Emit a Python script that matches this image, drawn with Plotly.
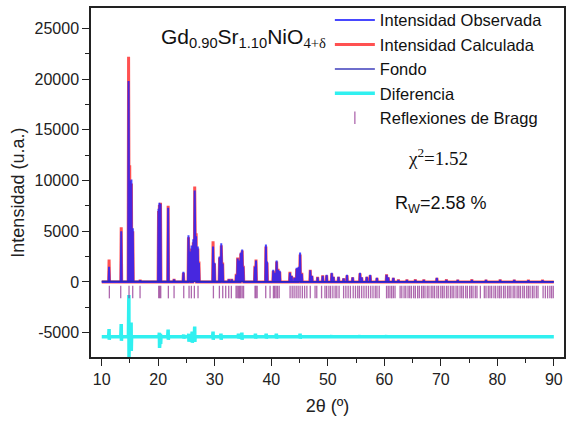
import plotly.graph_objects as go

# ---------------- data ----------------
peak_pos = [11.3, 13.45, 14.75, 14.95, 15.25, 15.5, 16.8, 20.05, 20.2, 20.4, 21.75, 22.8,
            24.45, 25.35, 25.6, 25.9, 26.2, 26.45, 26.7, 27.0, 27.2, 29.7, 29.95, 30.85,
            31.15, 31.4, 32.5, 33.0, 33.8, 34.05, 34.35, 34.6, 34.85, 35.05, 37.1, 37.3,
            39.05, 39.25, 40.35, 40.6, 40.95, 41.2, 41.5, 43.3, 43.6, 44.1, 44.5, 44.85,
            45.1, 45.4, 46.9, 47.2, 48.2, 49.1, 49.8, 50.7, 51.0, 51.9, 52.8, 53.4, 54.4,
            55.7, 56.0, 56.9, 57.5, 58.7, 60.4, 60.7, 61.6, 62.5, 64.0, 65.5, 67.0, 69.3,
            71.0, 73.0, 75.5, 78.0, 80.5, 83.0, 85.5, 88.0]
obs_int = [1500, 5000, 19800, 10000, 10100, 5300, 150, 7200, 7800, 7700, 7300, 250,
           1000, 4600, 3000, 3600, 4200, 9000, 4500, 3500, 1900, 3500, 1900, 2500,
           3800, 1800, 250, 250, 700, 2300, 2100, 2900, 3200, 1500, 1500, 2100,
           3700, 2000, 1200, 900, 2100, 1200, 1100, 900, 600, 400, 1400, 1500,
           2900, 800, 1150, 600, 450, 600, 700, 900, 500, 500, 350, 700, 450,
           900, 450, 500, 700, 400, 700, 450, 400, 200, 200, 200, 200, 400,
           200, 180, 200, 180, 200, 180, 170, 150]
calc_int = [2200, 5400, 22200, 11500, 9700, 5000, 200, 7000, 7600, 7800, 7500, 300,
            900, 4400, 3200, 3300, 3900, 9400, 4800, 3300, 2000, 4000, 1800, 2400,
            3600, 1900, 300, 300, 800, 2400, 2000, 2800, 3100, 1600, 1600, 2200,
            3500, 1900, 1100, 1000, 2000, 1300, 1000, 1000, 600, 450, 1300, 1400,
            2700, 900, 1200, 600, 500, 650, 650, 850, 500, 500, 350, 650, 450,
            850, 450, 500, 650, 400, 750, 450, 400, 250, 250, 250, 250, 400,
            250, 220, 250, 220, 250, 220, 200, 200]

bg_x = [10, 20, 30, 40, 50, 60, 70, 80, 90]
bg_y = [60, 50, 40, 35, 30, 30, 30, 30, 30]

diff_base = -5400
diff_pos = [11.3, 13.45, 14.8, 15.2, 20.2, 20.4, 21.75, 24.5, 25.4, 26.0, 26.45, 29.7,
            31.1, 34.2, 34.8, 37.2, 39.1, 40.9, 45.1, 50.7, 55.7, 60.4]
diff_up = [-4650, -4150, -1300, -4000, -5000, -5100, -4700, -5200, -5100, -4900, -4400, -4900,
           -5100, -5100, -5000, -5100, -5100, -5100, -5100, -5250, -5250, -5250]
diff_down = [-5700, -5800, -7400, -6800, -6500, -6100, -5700, -5600, -5900, -6000, -5900, -5700,
             -5700, -5600, -5700, -5600, -5600, -5600, -5600, -5550, -5550, -5550]

bragg_pos = [11.35, 13.36, 14.83, 15.48, 16.78, 20.08, 20.26, 20.44, 21.79, 22.8, 24.51, 25.45,
             25.86, 26.39, 27.04, 29.76, 30.82, 31.41, 31.94, 32.47, 32.94, 33.77, 33.97, 34.2,
             34.4, 34.6, 34.85, 35.1, 37.13, 37.3, 37.5, 39.02, 39.79, 40.38, 40.6, 40.85,
             41.1, 41.4, 43.33, 43.7, 44.04, 44.4, 44.75, 45.1, 45.5, 45.9, 46.3, 46.9,
             47.75, 48.05, 48.9, 49.5, 49.8, 50.2, 50.5, 50.9, 51.3, 51.6, 52.0, 52.8,
             53.2, 53.6, 54.0, 54.5, 54.9, 55.3, 55.6, 56.0, 56.4, 56.8, 57.2, 57.6,
             58.0, 58.4, 58.7, 59.1, 60.4, 60.7, 61.0, 61.3, 61.6, 61.9, 62.8, 63.1,
             63.5, 63.8, 64.2, 64.5, 64.8, 65.2, 65.5, 65.9, 66.2, 66.6, 66.9, 67.2,
             67.6, 67.9, 68.3, 68.6, 68.9, 69.3, 69.6, 70.0, 70.3, 70.6, 71.0, 71.3,
             71.7, 72.0, 72.3, 72.7, 73.0, 73.4, 73.7, 74.0, 74.4, 74.7, 75.1, 75.4,
             75.7, 76.1, 76.4, 77.0, 77.7, 78.0, 78.4, 78.7, 79.0, 79.4, 79.7, 80.1,
             80.4, 80.7, 81.1, 81.4, 81.8, 82.1, 82.4, 82.8, 83.1, 83.5, 83.8, 84.1,
             84.5, 84.8, 85.2, 85.5, 85.8, 86.2, 86.5, 86.9, 87.2, 88.1, 88.5, 88.9,
             89.3, 89.6, 89.9]
bragg_level = -1000

x_ticks = [10, 20, 30, 40, 50, 60, 70, 80, 90]
y_ticks = [-5000, 0, 5000, 10000, 15000, 20000, 25000]
y_tick_labels = ["-5000", "0", "5000", "10000", "15000", "20000", "25000"]


# ---------------- helpers to turn peak lists into line vertices ----------------
def profile(pos, hts, base=0.0, w=0.08):
    xs, ys = [10.0], [base]
    for p, h in sorted(zip(pos, hts)):
        xs += [p - w, p, p + w]
        ys += [base, h, base]
    xs.append(90.0)
    ys.append(base)
    return xs, ys


def diff_profile(pos, up, down, base, w=0.08):
    xs, ys = [10.0], [base]
    for p, u, d in zip(pos, up, down):
        xs += [p - w, p, p + 0.03, p + w]
        ys += [base, u, d, base]
    xs.append(90.0)
    ys.append(base)
    return xs, ys


ox, oy = profile(peak_pos, obs_int)
cx, cy = profile(peak_pos, calc_int)
dx, dy = diff_profile(diff_pos, diff_up, diff_down, diff_base)

FONT = "Liberation Sans, Arial, sans-serif"
SERIF = "Liberation Serif, Times New Roman, serif"

fig = go.Figure()
fig.add_trace(go.Scatter(x=cx, y=cy, mode="lines", name="Intensidad Calculada",
                         line=dict(color="rgba(255,50,50,0.85)", width=3), legendrank=2))
fig.add_trace(go.Scatter(x=ox, y=oy, mode="lines", name="Intensidad Observada",
                         line=dict(color="rgba(30,30,255,0.82)", width=2), legendrank=1))
fig.add_trace(go.Scatter(x=bg_x, y=bg_y, mode="lines", name="Fondo",
                         line=dict(color="rgba(40,40,180,0.9)", width=1.5), legendrank=3))
fig.add_trace(go.Scatter(x=dx, y=dy, mode="lines", name="Diferencia",
                         line=dict(color="#30F0F0", width=3.5), legendrank=4))
fig.add_trace(go.Scatter(x=bragg_pos, y=[bragg_level] * len(bragg_pos), mode="markers",
                         name="Reflexiones de Bragg",
                         marker=dict(symbol="line-ns", size=9,
                                     line=dict(color="rgba(140,40,140,0.7)", width=1.3)),
                         legendrank=5))

axis_common = dict(showline=True, linecolor="#222", linewidth=1.5, mirror=True,
                   ticks="outside", ticklen=7, tickwidth=1.3, tickcolor="#222",
                   showgrid=False, zeroline=False, automargin=False,
                   tickfont=dict(family=FONT, size=16, color="#222"))

fig.update_xaxes(range=[8.1, 91.8], tickvals=x_ticks, **axis_common,
                 minor=dict(dtick=5, ticks="outside", ticklen=4, tickwidth=1.2, tickcolor="#222"),
                 title=dict(text="2θ (º)", font=dict(family=FONT, size=18, color="#222"), standoff=12))
fig.update_yaxes(range=[-7400, 27000], tickvals=y_ticks, ticktext=y_tick_labels, **axis_common,
                 minor=dict(dtick=2500, ticks="outside", ticklen=4, tickwidth=1.2, tickcolor="#222"))

fig.add_annotation(text="Intensidad (u.a.)", xref="paper", yref="paper",
                   x=-0.155, y=0.47, xanchor="center", yanchor="middle",
                   textangle=-90, showarrow=False,
                   font=dict(family=FONT, size=18, color="#222"))
fig.add_annotation(text="Gd<sub>0.90</sub>Sr<sub>1.10</sub>NiO<sub><span style='font-family:Liberation Serif'>4+δ</span></sub>",
                   x=20.2, y=24000, xref="x", yref="y", xanchor="left", yanchor="middle",
                   showarrow=False, font=dict(family=FONT, size=21, color="#111"))
fig.add_annotation(text="χ<sup>2</sup>=1.52", x=63.9, y=12300, xref="x", yref="y",
                   xanchor="left", yanchor="middle", showarrow=False,
                   font=dict(family=SERIF, size=19, color="#111"))
fig.add_annotation(text="R<sub>W</sub>=2.58 %", x=61.6, y=7600, xref="x", yref="y",
                   xanchor="left", yanchor="middle", showarrow=False,
                   font=dict(family=FONT, size=18, color="#111"))

fig.update_layout(
    width=566, height=424,
    margin=dict(l=91, r=2, t=8, b=67, autoexpand=False),
    paper_bgcolor="white", plot_bgcolor="white",
    showlegend=True,
    legend=dict(x=0.505, y=1.015, xanchor="left", yanchor="top",
                bgcolor="rgba(0,0,0,0)", borderwidth=0,
                font=dict(family=FONT, size=16.5, color="#111"),
                tracegroupgap=0, itemwidth=40),
)

fig.write_html("out.html", config={"displayModeBar": False},
               post_script="document.body.style.margin='0';document.body.style.overflow='hidden';")
